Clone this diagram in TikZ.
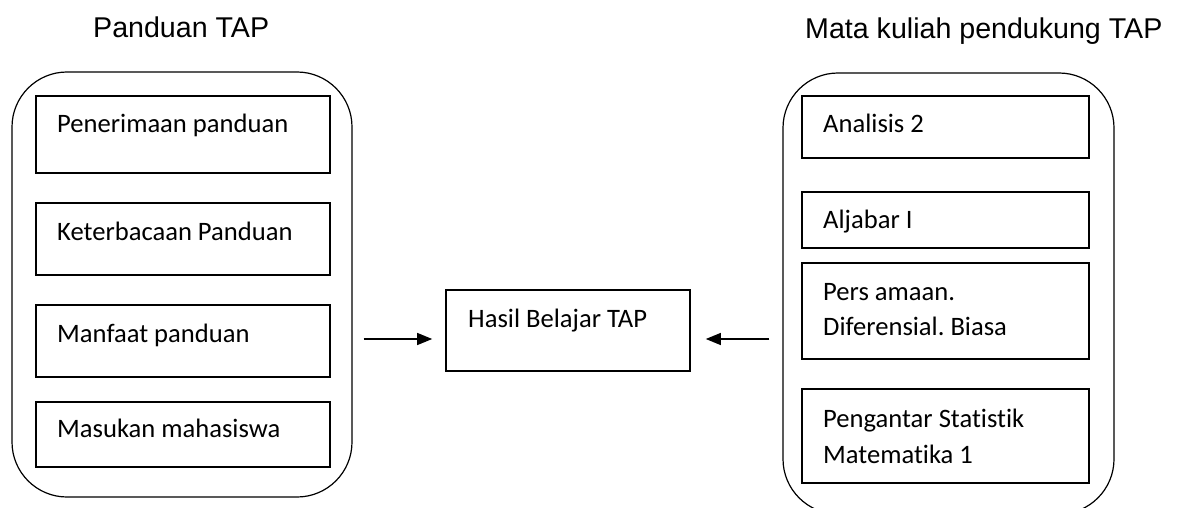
\documentclass[tikz,border=0pt]{standalone}
\usepackage{fontspec}
\setmainfont{Carlito}[Ligatures={NoCommon}]
\newfontfamily\titlefont{Liberation Sans}
\usetikzlibrary{arrows.meta}
\frenchspacing
\begin{document}
\begin{tikzpicture}[x=1pt,y=-1pt,
  container/.style={draw, line width=1.2pt, rounded corners=55pt, inner sep=0pt},
  itembox/.style={draw, line width=1.6pt, inner sep=0pt},
  itemtext/.style={anchor=base west, inner sep=0pt, font=\fontsize{26.6}{34}\selectfont},
  title/.style={anchor=base west, inner sep=0pt, font=\titlefont\fontsize{28.6}{34}\selectfont},
  arr/.style={line width=1.3pt, -{Triangle[length=15pt,width=12pt]}}]
\useasboundingbox (0,0) rectangle (1177,508);
% titles
\node[title] (t1) at (93,38) {Panduan TAP};
\node[title] (t2) at (805,39) {Mata kuliah pendukung TAP};
% left container
\node[container, minimum width=340pt, minimum height=425pt] (L) at (182,284.5) {};
\node[itembox, minimum width=294pt, minimum height=77pt] (l1) at (183,134.5) {};
\node[itembox, minimum width=294pt, minimum height=72pt] (l2) at (183,239) {};
\node[itembox, minimum width=294pt, minimum height=72pt] (l3) at (183,341) {};
\node[itembox, minimum width=294pt, minimum height=65pt] (l4) at (183,434.5) {};
\node[itemtext] (l1t) at (57,132) {Penerimaan panduan};
\node[itemtext] (l2t) at (57,240) {Keterbacaan Panduan};
\node[itemtext] (l3t) at (57,342) {Manfaat panduan};
\node[itemtext] (l4t) at (57,437) {Masukan mahasiswa};
% middle
\node[itembox, minimum width=244pt, minimum height=81pt] (m) at (568,330.5) {};
\node[itemtext] (mt) at (468,327) {Hasil Belajar TAP};
% right container
\node[container, minimum width=331pt, minimum height=441pt] (R) at (948.5,293.5) {};
\node[itembox, minimum width=287pt, minimum height=62pt] (r1) at (945.5,127) {};
\node[itembox, minimum width=287pt, minimum height=56pt] (r2) at (945.5,220) {};
\node[itembox, minimum width=287pt, minimum height=96pt] (r3) at (945.5,311) {};
\node[itembox, minimum width=287pt, minimum height=94pt] (r4) at (945.5,436) {};
\node[itemtext] (r1t) at (823,132) {Analisis 2};
\node[itemtext] (r2t) at (823,228) {Aljabar I};
\node[itemtext] (r3t) at (823,300) {Pers amaan.};
\node[itemtext] (r3u) at (823,335) {Diferensial. Biasa};
\node[itemtext] (r4t) at (823,427) {Pengantar Statistik};
\node[itemtext] (r4u) at (823,463) {Matematika 1};
% arrows
\draw[arr, shorten <=11pt, shorten >=13pt] ([yshift=-8.5pt]L.east |- m.center) -- ([yshift=-8.5pt]m.west);
\draw[arr, shorten <=13pt, shorten >=15pt] ([yshift=-8.5pt]R.west |- m.center) -- ([yshift=-8.5pt]m.east);
\end{tikzpicture}
\end{document}
